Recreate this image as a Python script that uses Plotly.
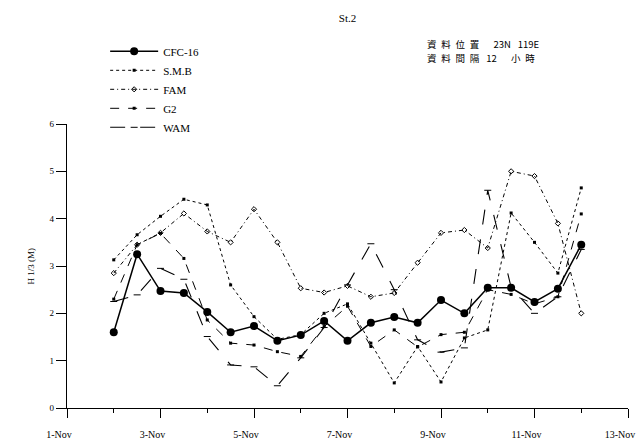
import plotly.graph_objects as go

# Time axis: 12-hourly samples, expressed as day of November
days = [2.0, 2.5, 3.0, 3.5, 4.0, 4.5, 5.0, 5.5, 6.0, 6.5, 7.0,
        7.5, 8.0, 8.5, 9.0, 9.5, 10.0, 10.5, 11.0, 11.5, 12.0]

# Significant wave height H1/3 (m) at St.2
cfc16 = [1.60, 3.25, 2.47, 2.43, 2.03, 1.60, 1.73, 1.42, 1.54, 1.84, 1.42,
         1.80, 1.92, 1.80, 2.28, 2.00, 2.54, 2.54, 2.24, 2.52, 3.45]
smb = [3.13, 3.66, 4.05, 4.41, 4.29, 2.60, 1.93, 1.45, 1.55, 2.00, 2.20,
       1.37, 0.53, 1.30, 0.55, 1.48, 1.65, 4.12, 3.50, 2.85, 4.65]
fam = [2.85, 3.45, 3.70, 4.11, 3.73, 3.50, 4.20, 3.50, 2.53, 2.44, 2.58,
       2.35, 2.43, 3.07, 3.70, 3.76, 3.38, 5.00, 4.90, 3.90, 2.00]
g2 = [2.30, 3.45, 3.69, 3.16, 1.86, 1.37, 1.33, 1.19, 1.09, 1.72, 2.15,
      1.30, 1.65, 1.29, 1.55, 1.60, 2.50, 2.40, 2.20, 2.35, 4.10]
wam = [2.25, 2.39, 2.95, 2.72, 1.51, 0.91, 0.87, 0.47, 1.06, 1.70, 2.60,
       3.47, 2.50, 1.44, 1.18, 1.27, 4.60, 2.55, 2.00, 2.35, 3.35]

tick_days = [1, 3, 5, 7, 9, 11, 13]
tick_text = ["1-Nov", "3-Nov", "5-Nov", "7-Nov", "9-Nov", "11-Nov", "13-Nov"]
minor_days = [2, 4, 6, 8, 10, 12]
y_ticks = [0, 1, 2, 3, 4, 5, 6]

SERIF = "Liberation Serif"
CJK = "Noto Sans CJK TC"

series = [
    ("CFC-16", cfc16, dict(color="black", width=1.5, dash="solid"),
     dict(symbol="circle", size=8, color="black")),
    ("S.M.B", smb, dict(color="black", width=1.0, dash="dot"),
     dict(symbol="square", size=3, color="black")),
    ("FAM", fam, dict(color="black", width=1.0, dash="4px,3px,1px,3px"),
     dict(symbol="diamond-open", size=4, color="black")),
    ("G2", g2, dict(color="black", width=1.0, dash="dash"),
     dict(symbol="square", size=3, color="black")),
    ("WAM", wam, dict(color="black", width=1.1, dash="longdash"),
     dict(symbol="line-ew", size=5, color="black", line=dict(width=1, color="black"))),
]

fig = go.Figure()
for i, (name, vals, line, marker) in enumerate(series):
    fig.add_trace(go.Scatter(
        x=days, y=vals, name=name, mode="lines+markers",
        line=line, marker=marker, legendgroup=f"g{i}",
    ))

fig.update_layout(
    width=640, height=443,
    margin=dict(l=67, r=12, t=124, b=35, autoexpand=False),
    paper_bgcolor="white", plot_bgcolor="white",
    font=dict(family=SERIF, color="black", size=10),
    showlegend=True,
    legend=dict(
        x=0.068, y=1.307, xanchor="left", yanchor="top",
        bgcolor="rgba(0,0,0,0)", font=dict(family=SERIF, size=11),
        tracegroupgap=0, itemwidth=48,
    ),
    title=dict(text="St.2", x=0.5, xref="paper", y=0.967, yref="container",
               xanchor="center", font=dict(family=SERIF, size=11)),
)

fig.update_xaxes(
    range=[1, 13], showgrid=False, zeroline=False, automargin=False,
    showline=True, linecolor="black", linewidth=1.2,
    ticks="outside", ticklen=9, tickwidth=1.2, tickcolor="black",
    tickvals=tick_days, ticktext=tick_text,
    tickfont=dict(family=SERIF, size=10),
    ticklabelshift=-8, ticklabelstandoff=8,
    minor=dict(tickvals=minor_days, ticks="outside", ticklen=4, tickcolor="black", tickwidth=1),
)
fig.update_yaxes(
    range=[0, 6], showgrid=False, zeroline=False, automargin=False,
    showline=True, linecolor="black", linewidth=1.2,
    ticks="outside", ticklen=10, tickwidth=1.2, tickcolor="black",
    tickvals=y_ticks, tickfont=dict(family=SERIF, size=9),
)

# Y-axis caption
fig.add_annotation(text="H 1/3 (M)", xref="paper", yref="paper",
                   x=-0.065, y=0.5, textangle=-90, showarrow=False,
                   xanchor="center", yanchor="middle",
                   font=dict(family=SERIF, size=9))

# Station information block (two lines)
info_lines = [
    "資\u2002料\u2002位\u2002置\u2003\u200223N\u2002 119E",
    "資\u2002料\u2002間\u2002隔\u2002 12\u2003\u2002小\u2002時",
]
for k, txt in enumerate(info_lines):
    fig.add_annotation(
        text=txt, xref="paper", yref="paper",
        x=0.638, y=1.0 + (124 - 44 - 14.5 * k) / 284,
        xanchor="left", yanchor="middle",
        align="left", showarrow=False, font=dict(family=CJK, size=9.5),
    )

fig.write_html("out.html")
